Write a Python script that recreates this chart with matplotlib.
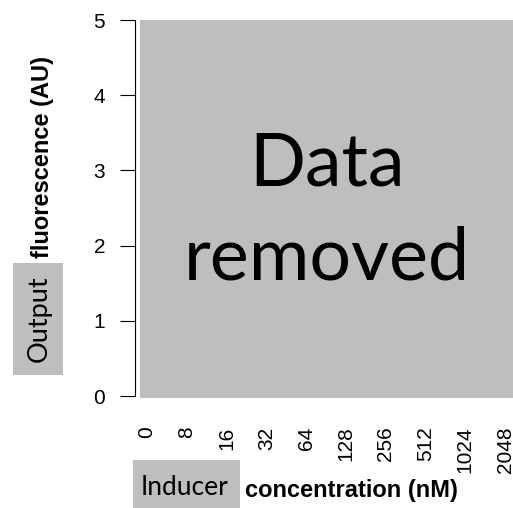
import matplotlib
matplotlib.use("Agg")
import matplotlib.pyplot as plt
from matplotlib.patches import Rectangle

# axis content
conc_labels = ["0", "8", "16", "32", "64", "128", "256", "512", "1024", "2048"]
y_ticks = [0, 1, 2, 3, 4, 5]
y_max = 5

W, H = 513, 508
DPI = 100
GREY = "#bebebe"
plt.rcParams["font.family"] = ["Liberation Sans", "DejaVu Sans"]


def fx(px):
    return px / W


def fy(py):
    return 1 - py / H


fig = plt.figure(figsize=(W / DPI, H / DPI), dpi=DPI)
# plot region: spine at x=135, y from 396 (0) to 20 (5)
ax = fig.add_axes([fx(135), fy(396), fx(513) - fx(135), fy(20) - fy(396)])
ax.patch.set_alpha(0)

x_pos = list(range(len(conc_labels)))
ax.set_xlim(-0.30, len(conc_labels) - 1 + 0.2)
ax.set_ylim(0, y_max)

ax.set_xticks(x_pos)
ax.set_xticklabels(conc_labels, rotation=90, fontsize=15, va="top", ha="center")
ax.tick_params(axis="x", length=0, pad=22)
ax.set_yticks(y_ticks)
ax.set_yticklabels([str(v) for v in y_ticks], fontsize=15)
ax.tick_params(axis="y", length=11, width=0.8, pad=10.5)

for side in ["top", "right", "bottom"]:
    ax.spines[side].set_visible(False)
ax.spines["left"].set_linewidth(0.8)

# grey panel covering where the data would be
fig.add_artist(Rectangle((fx(140), fy(398)), fx(513) - fx(140), fy(20) - fy(398),
                         transform=fig.transFigure, facecolor=GREY, edgecolor="none"))
fig.text(fx(327), fy(212), "Data\nremoved", family="Lato", fontsize=53,
         ha="center", va="center", linespacing=1.5)

# y axis label: boxed word + bold remainder
fig.add_artist(Rectangle((fx(13), fy(375)), fx(63) - fx(13), fy(263) - fy(375),
                         transform=fig.transFigure, facecolor=GREY, edgecolor="none"))
fig.text(fx(39), fy(319), "Output", family="Lato", fontsize=19.5,
         rotation=90, ha="center", va="center")
fig.text(fx(43), fy(157), "fluorescence (AU)", fontsize=17, fontweight="bold",
         rotation=90, ha="center", va="center")

# x axis label: boxed word + bold remainder
fig.add_artist(Rectangle((fx(133), fy(510)), fx(240) - fx(133), fy(460) - fy(510),
                         transform=fig.transFigure, facecolor=GREY, edgecolor="none"))
fig.text(fx(184.5), fy(495), "Inducer", family="Lato", fontsize=19,
         ha="center", va="baseline")
fig.text(fx(245), fy(497), "concentration (nM)", fontsize=17, fontweight="bold",
         ha="left", va="baseline")

fig.savefig("out.png", dpi=DPI)
